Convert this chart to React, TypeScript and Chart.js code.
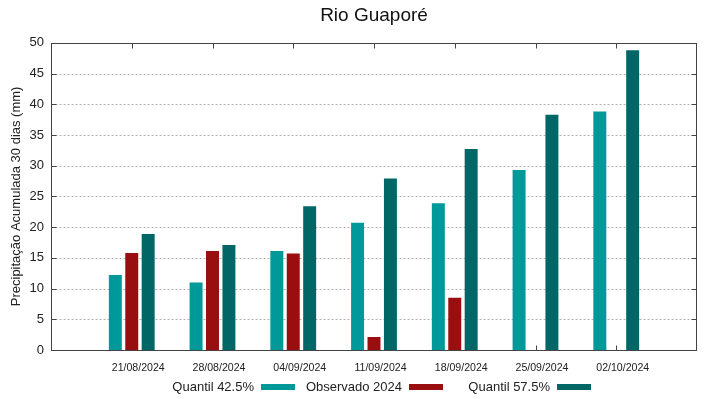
import React, { useEffect, useRef } from 'react';
import { Chart, registerables } from 'chart.js';

Chart.register(...registerables);

const TITLE = 'Rio Guaporé';
const Y_TITLE = 'Precipitação Acumulada 30 dias (mm)';
const dates = ['21/08/2024', '28/08/2024', '04/09/2024', '11/09/2024', '18/09/2024', '25/09/2024', '02/10/2024'];
const seriesNames = ['Quantil 42.5%', 'Observado 2024', 'Quantil 57.5%'];
const quantil425 = [12.2, 11.0, 16.1, 20.7, 23.9, 29.3, 38.8];
const observado2024: (number | null)[] = [15.8, 16.1, 15.7, 2.1, 8.5, null, null];
const quantil575 = [18.9, 17.1, 23.4, 27.9, 32.7, 38.3, 48.8];
const yMin = 0;
const yMax = 50;
const yStep = 5;
const seriesColors = ['#009999', '#990f0f', '#006666'];

const FONT = '"Liberation Sans", Arial, sans-serif';

const pad = (arr: (number | null)[]) => [null, ...arr, null];

const framePlugin = {
  id: 'gnuFrame',
  beforeDatasetsDraw(chart: any) {
    const { ctx, chartArea: a, scales } = chart;
    const x = scales.x;
    const y = scales.y;
    const L = Math.round(a.left) + 0.5;
    const R = Math.round(a.right) - 0.5;
    const T = Math.round(a.top) + 0.5;
    const B = Math.round(a.bottom) + 0.5;
    ctx.save();
    ctx.lineWidth = 1;
    ctx.strokeStyle = '#b0b0b0';
    ctx.setLineDash([2, 2]);
    y.ticks.forEach((t: any) => {
      if (t.value > y.min && t.value < y.max) {
        const py = Math.round(y.getPixelForValue(t.value)) + 0.5;
        ctx.beginPath();
        ctx.moveTo(L, py);
        ctx.lineTo(R, py);
        ctx.stroke();
      }
    });
    ctx.setLineDash([]);
    ctx.strokeStyle = '#444444';
    y.ticks.forEach((t: any) => {
      const py = Math.round(y.getPixelForValue(t.value)) + 0.5;
      ctx.beginPath();
      ctx.moveTo(L, py);
      ctx.lineTo(L + 5, py);
      ctx.moveTo(R, py);
      ctx.lineTo(R - 5, py);
      ctx.stroke();
    });
    for (let i = 1; i <= dates.length; i++) {
      const px = Math.round(x.getPixelForValue(i)) + 0.5;
      ctx.beginPath();
      ctx.moveTo(px, T);
      ctx.lineTo(px, T + 5);
      ctx.moveTo(px, B);
      ctx.lineTo(px, B - 5);
      ctx.stroke();
    }
    ctx.restore();
  },
  afterDatasetsDraw(chart: any) {
    const { ctx, chartArea: a } = chart;
    ctx.save();
    ctx.strokeStyle = '#444444';
    ctx.lineWidth = 1;
    ctx.strokeRect(Math.round(a.left) + 0.5, Math.round(a.top) + 0.5, Math.round(a.width) - 1, Math.round(a.height));
    ctx.restore();
  },
  afterDraw(chart: any) {
    const { ctx, chartArea: a } = chart;
    const cx = (a.left + a.right) / 2;
    const ly = 387;
    ctx.save();
    ctx.font = `13px ${FONT}`;
    ctx.textAlign = 'right';
    ctx.textBaseline = 'middle';
    chart.data.datasets.forEach((ds: any, i: number) => {
      const right = cx - 120 + i * 148;
      ctx.fillStyle = '#222222';
      ctx.fillText(ds.label, right, ly);
      ctx.fillStyle = ds.backgroundColor;
      ctx.fillRect(right + 7, ly - 3, 34, 6);
    });
    ctx.restore();
  },
};

export default function App() {
  const ref = useRef<HTMLCanvasElement | null>(null);
  useEffect(() => {
    document.body.style.margin = '0';
    Chart.defaults.font.family = FONT;
    const canvas = ref.current;
    if (!canvas) return;
    const seriesData = [quantil425, observado2024, quantil575];
    const chart = new Chart(canvas, {
      type: 'bar',
      data: {
        labels: ['', ...dates, ''],
        datasets: seriesData.map((d, i) => ({
          label: seriesNames[i],
          data: pad(d),
          backgroundColor: seriesColors[i],
          borderWidth: 0,
          categoryPercentage: 0.61,
          barPercentage: 0.79,
        })),
      },
      options: {
        animation: false,
        responsive: true,
        maintainAspectRatio: false,
        layout: { padding: { left: 0, right: 22, top: 0, bottom: 0 } },
        plugins: {
          legend: { display: false },
          tooltip: { enabled: false },
          title: {
            display: true,
            text: TITLE,
            fullSize: false,
            color: '#111111',
            font: { size: 19, weight: 'normal', family: FONT },
            padding: { top: 4, bottom: 16 },
          },
        },
        scales: {
          x: {
            type: 'category',
            offset: false,
            grid: { display: false, drawTicks: false },
            border: { display: false },
            ticks: {
              autoSkip: false,
              maxRotation: 0,
              minRotation: 0,
              color: '#222222',
              font: { size: 10.6, family: FONT },
              padding: 12,
              labelOffset: 6.5,
            },
            afterFit: (s: any) => {
              s.height = 49;
            },
          },
          y: {
            min: yMin,
            max: yMax,
            grid: { display: false, drawTicks: false },
            border: { display: false },
            ticks: {
              stepSize: yStep,
              color: '#222222',
              font: { size: 13, family: FONT },
              padding: 7,
            },
            title: {
              display: true,
              text: Y_TITLE,
              color: '#222222',
              font: { size: 13, family: FONT },
              padding: { top: 9, bottom: 0 },
            },
            afterFit: (s: any) => {
              s.width = 51;
            },
          },
        },
      },
      plugins: [framePlugin],
    } as any);
    return () => chart.destroy();
  }, []);
  return (
    <div style={{ position: 'relative', width: 719, height: 399 }}>
      <canvas ref={ref} />
    </div>
  );
}
